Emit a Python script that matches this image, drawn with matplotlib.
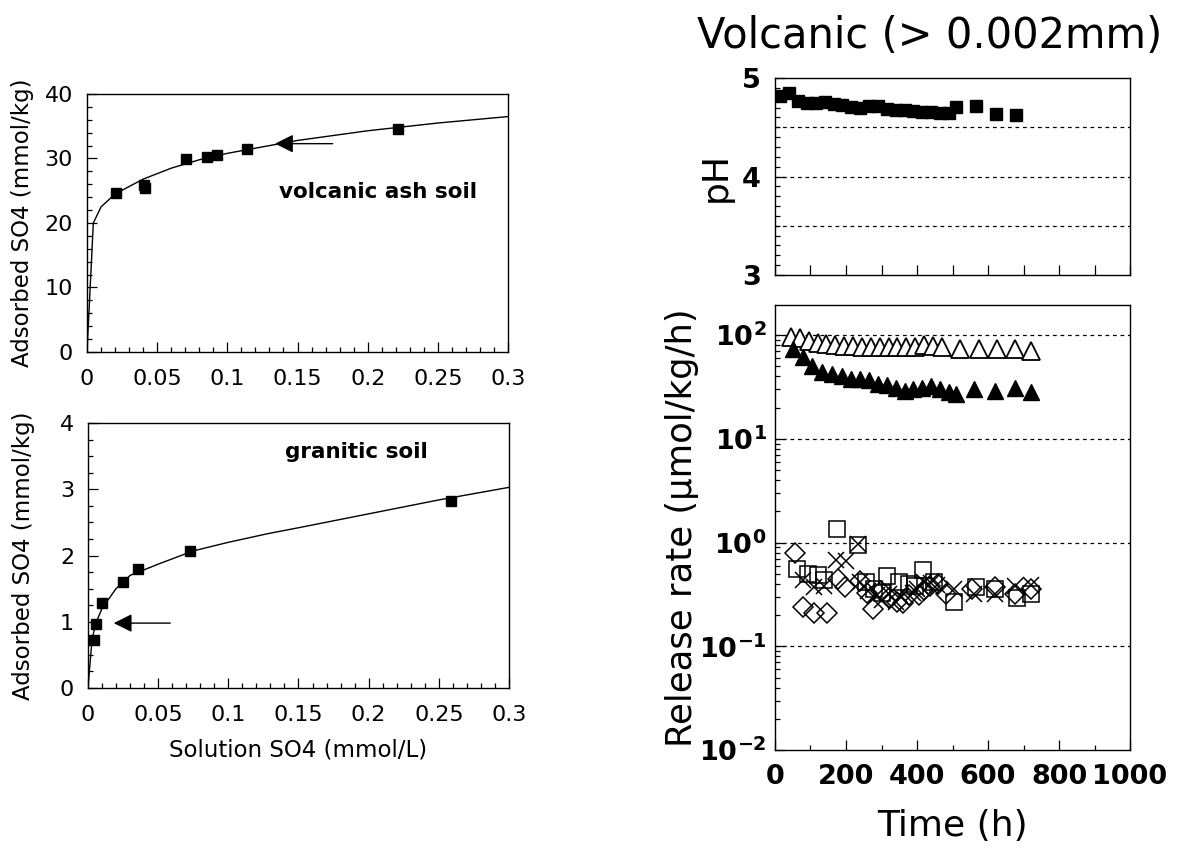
import matplotlib.pyplot as plt
from matplotlib.ticker import MultipleLocator, FixedLocator, NullFormatter

plt.rcParams['font.family'] = ['DejaVu Sans']
plt.rcParams['mathtext.fontset'] = 'custom'
plt.rcParams['mathtext.rm'] = 'DejaVu Sans:bold'
plt.rcParams['mathtext.default'] = 'rm'

# --- adsorption isotherms (left) ---
volc_x = [0.0206, 0.0403, 0.041, 0.0704, 0.0858, 0.0924, 0.1142, 0.2213]
volc_y = [24.6, 25.9, 25.5, 29.9, 30.3, 30.6, 31.4, 34.6]
volc_fit_x = [0, 0.0045, 0.01, 0.02, 0.04, 0.06, 0.08, 0.1, 0.13, 0.15, 0.2, 0.25, 0.3]
volc_fit_y = [0, 20.0, 22.5, 24.5, 26.8, 28.5, 29.8, 30.8, 32.0, 32.8, 34.3, 35.5, 36.5]

gran_x = [0.0045, 0.0057, 0.010, 0.0251, 0.0355, 0.073, 0.259]
gran_y = [0.73, 0.97, 1.28, 1.60, 1.80, 2.07, 2.83]
gran_fit_x = [0, 0.003, 0.006, 0.01, 0.02, 0.03, 0.05, 0.075, 0.1, 0.128, 0.15, 0.2, 0.25, 0.3]
gran_fit_y = [0, 0.75, 1.0, 1.2, 1.5, 1.7, 1.87, 2.07, 2.2, 2.33, 2.42, 2.63, 2.84, 3.03]

iso_xticks = [0, 0.05, 0.1, 0.15, 0.2, 0.25, 0.3]
iso_xlabels = ['0', '0.05', '0.1', '0.15', '0.2', '0.25', '0.3']

# --- pH and release rate vs time (right) ---
ph_t = [15, 40, 65, 90, 115, 140, 165, 190, 215, 240, 265, 290, 315, 340, 365,
        390, 415, 440, 465, 490, 510, 565, 622, 680]
ph_v = [4.82, 4.85, 4.77, 4.75, 4.75, 4.76, 4.74, 4.73, 4.71, 4.70, 4.72, 4.72,
        4.69, 4.68, 4.68, 4.67, 4.66, 4.66, 4.65, 4.65, 4.71, 4.72, 4.64, 4.63]

tri_open_t = [45, 70, 95, 120, 145, 170, 195, 220, 245, 270, 295, 320, 345, 370,
              395, 420, 445, 470, 520, 575, 625, 675, 720]
tri_open_v = [95, 93, 88, 84, 82, 80, 79, 78, 77, 77, 76, 76, 76, 77, 77, 80, 78,
              76, 74, 73, 73, 73, 71]

tri_fill_t = [50, 78, 105, 133, 161, 188, 215, 240, 265, 290, 315, 340, 365, 390,
              415, 440, 465, 490, 510, 560, 621, 676, 721]
tri_fill_v = [74, 61, 50, 44, 42, 40, 38, 38, 37, 34, 33, 31, 29, 30, 31, 32, 30,
              28, 27, 30, 29, 31, 28]

sq_t = [61, 94, 122, 139, 174, 233, 255, 280, 300, 316, 349, 377, 395, 416, 449,
        504, 565, 621, 682, 721]
sq_v = [0.56, 0.50, 0.49, 0.44, 1.36, 0.95, 0.42, 0.36, 0.33, 0.48, 0.42, 0.40,
        0.38, 0.54, 0.42, 0.27, 0.37, 0.36, 0.29, 0.32]

dm_t = [55, 78, 111, 146, 177, 196, 240, 260, 277, 299, 320, 344, 360, 377, 405,
        420, 438, 460, 482, 554, 621, 676, 721]
dm_v = [0.80, 0.24, 0.21, 0.21, 0.45, 0.37, 0.43, 0.33, 0.23, 0.34, 0.29, 0.27,
        0.26, 0.31, 0.31, 0.35, 0.38, 0.40, 0.32, 0.36, 0.37, 0.32, 0.36]

cr_t = [78, 111, 139, 172, 200, 233, 240, 261, 288, 300, 322, 340, 355, 388, 400,
        421, 440, 455, 504, 560, 621, 676, 721]
cr_v = [0.44, 0.37, 0.38, 0.68, 0.66, 0.96, 0.42, 0.34, 0.31, 0.28, 0.32, 0.27,
        0.30, 0.33, 0.36, 0.42, 0.41, 0.39, 0.36, 0.32, 0.32, 0.38, 0.39]

ph_ticks = [3, 4, 5]
rate_ticks = [1e-2, 1e-1, 1e0, 1e1, 1e2]
rate_labels = ['$10^{-2}$', '$10^{-1}$', '$10^{0}$', '$10^{1}$', '$10^{2}$']
time_ticks = [0, 200, 400, 600, 800, 1000]


fig = plt.figure(figsize=(11.87, 8.6), dpi=100)

ax1 = fig.add_axes([0.0733, 0.5907, 0.3547, 0.300])
ax2 = fig.add_axes([0.0741, 0.2000, 0.3547, 0.308])
ax3 = fig.add_axes([0.6529, 0.6802, 0.2991, 0.229])
ax4 = fig.add_axes([0.6529, 0.1279, 0.2991, 0.5174])


def iso_style(ax, ymax, ymajor, yminor):
    ax.set_xlim(0, 0.3)
    ax.set_ylim(0, ymax)
    ax.set_xticks(iso_xticks, labels=iso_xlabels)
    ax.xaxis.set_minor_locator(MultipleLocator(0.01))
    ax.yaxis.set_major_locator(MultipleLocator(ymajor))
    ax.yaxis.set_minor_locator(MultipleLocator(yminor))
    ax.tick_params(which='both', direction='in', top=False, right=False, width=0.9)
    ax.tick_params(axis='x', labelsize=16, pad=12)
    ax.tick_params(axis='y', labelsize=16, pad=10)
    ax.tick_params(which='major', length=7)
    ax.tick_params(which='minor', length=3.5)
    for s in ax.spines.values():
        s.set_linewidth(1.0)
    ax.set_ylabel('Adsorbed SO4 (mmol/kg)', fontsize=16.5)
    ax.yaxis.set_label_coords(-0.125, 0.5)


# volcanic ash soil
ax1.plot(volc_fit_x, volc_fit_y, color='k', lw=1.0)
ax1.plot(volc_x, volc_y, 's', color='k', ms=7)
ax1.annotate('', xy=(0.132, 32.3), xytext=(0.177, 32.3),
             arrowprops=dict(arrowstyle='-|>', color='k', lw=1.0, mutation_scale=28))
ax1.text(0.207, 24.8, 'volcanic ash soil', fontsize=15.5, fontweight='bold',
         ha='center', va='center')
iso_style(ax1, 40, 10, 2)

# granitic soil
ax2.plot(gran_fit_x, gran_fit_y, color='k', lw=1.0)
ax2.plot(gran_x, gran_y, 's', color='k', ms=7)
ax2.annotate('', xy=(0.0164, 0.98), xytext=(0.0606, 0.98),
             arrowprops=dict(arrowstyle='-|>', color='k', lw=1.0, mutation_scale=28))
ax2.text(0.191, 3.56, 'granitic soil', fontsize=15.5, fontweight='bold',
         ha='center', va='center')
iso_style(ax2, 4, 1, 0.25)
ax2.set_xlabel('Solution SO4 (mmol/L)', fontsize=16.5, labelpad=10)

# pH panel
for g in [3.5, 4.0, 4.5]:
    ax3.axhline(g, color='k', lw=0.9, ls=(0, (3, 3)))
ax3.plot(ph_t, ph_v, 's', color='k', ms=8)
ax3.set_xlim(0, 1000)
ax3.set_ylim(3, 5)
ax3.set_yticks(ph_ticks)
ax3.yaxis.set_minor_locator(MultipleLocator(0.1))
ax3.xaxis.set_major_locator(MultipleLocator(100))
ax3.xaxis.set_major_formatter(NullFormatter())
ax3.set_ylabel('pH', fontsize=26)
ax3.yaxis.set_label_coords(-0.12, 0.5)

# release rate panel
for g in rate_ticks[1:]:
    ax4.axhline(g, color='k', lw=0.9, ls=(0, (3, 3)))
ax4.plot(tri_open_t, tri_open_v, '^', mfc='white', mec='k', mew=1.3, ms=13)
ax4.plot(tri_fill_t, tri_fill_v, '^', color='k', ms=11)
ax4.plot(sq_t, sq_v, 's', mfc='none', mec='k', mew=1.1, ms=12)
ax4.plot(dm_t, dm_v, 'D', mfc='none', mec='k', mew=1.1, ms=10)
ax4.plot(cr_t, cr_v, 'x', color='k', mew=1.1, ms=11)
ax4.set_yscale('log')
ax4.set_xlim(0, 1000)
ax4.set_ylim(1e-2, 195)
ax4.set_yticks(rate_ticks, labels=rate_labels)
ax4.yaxis.set_minor_locator(FixedLocator(
    [m * 10.0 ** e for e in range(-2, 3) for m in range(2, 10)]))
ax4.yaxis.set_minor_formatter(NullFormatter())
ax4.set_xticks(time_ticks)
ax4.xaxis.set_minor_locator(MultipleLocator(100))
ax4.set_ylabel('Release rate (μmol/kg/h)', fontsize=25.5)
ax4.yaxis.set_label_coords(-0.215, 0.5)
ax4.set_xlabel('Time (h)', fontsize=26, labelpad=14)

for ax in (ax3, ax4):
    ax.tick_params(which='both', direction='in', top=False, right=False, width=0.9)
    ax.tick_params(which='major', length=7, labelsize=19.5)
    ax.tick_params(which='minor', length=3.5)
    for lab in ax.get_xticklabels() + ax.get_yticklabels():
        lab.set_fontweight('bold')
    for s in ax.spines.values():
        s.set_linewidth(1.0)
ax3.tick_params(axis='y', pad=10)
ax4.tick_params(axis='y', pad=6)
ax4.tick_params(axis='x', pad=10)

fig.text(0.7835, 0.958, 'Volcanic (> 0.002mm)', fontsize=30, ha='center', va='center')

fig.savefig('out.png', dpi=100)
